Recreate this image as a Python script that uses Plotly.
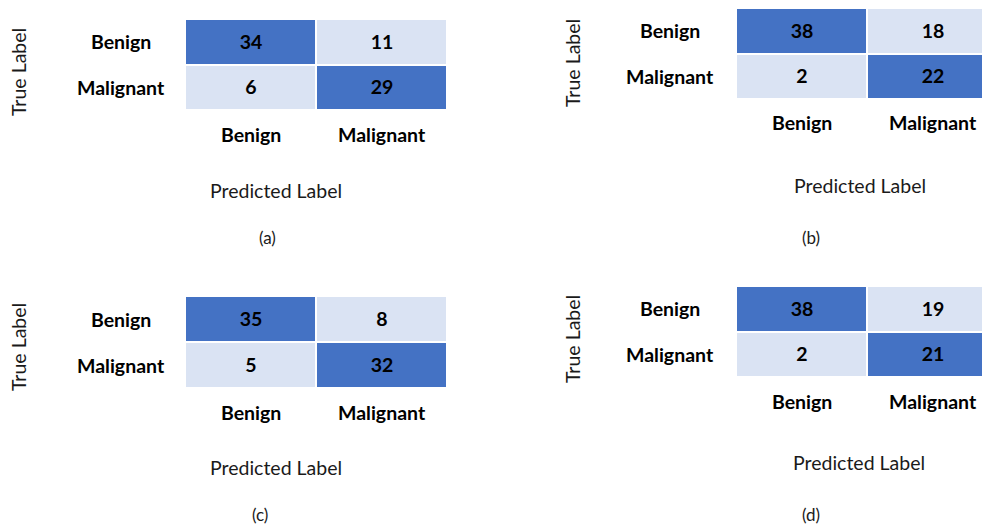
import plotly.graph_objects as go

W, H = 982, 524

classes = ["Benign", "Malignant"]
panel_names = ["(a)", "(b)", "(c)", "(d)"]
cm_a = [[34, 11], [6, 29]]
cm_b = [[38, 18], [2, 22]]
cm_c = [[35, 8], [5, 32]]
cm_d = [[38, 19], [2, 21]]
matrices = [cm_a, cm_b, cm_c, cm_d]

DARK = "#4472C4"
LIGHT = "#DAE3F3"
FONT = "Lato"
FS = 19.5

# layout per panel (pixels): cell left, cell right, top, bottom, x range right, row label x,
# predicted label (x,y), caption (x,y), true label (x,y)
panels = [
    dict(l=185, r=447, t=19, b=110, xr=1.5, rowx=121, pred=(276, 190), cap=(267, 237), tl=(18, 72)),
    dict(l=736, r=982, t=8, b=99, xr=0.5 + 115 / 131, rowx=670, pred=(860, 185), cap=(811, 238), tl=(572, 63)),
    dict(l=185, r=447, t=296, b=388, xr=1.5, rowx=121, pred=(276, 467), cap=(260, 514), tl=(18, 347)),
    dict(l=736, r=982, t=286, b=377, xr=0.5 + 115 / 131, rowx=670, pred=(859, 463), cap=(811, 514), tl=(572, 339)),
]

fig = go.Figure()
annotations = []

def px(x):
    return x / W

def py(y):
    return 1 - y / H

for i, (cm, p) in enumerate(zip(matrices, panels)):
    k = "" if i == 0 else str(i + 1)
    xa, ya = "x" + k, "y" + k
    color_idx = [[1 if r == c else 0 for c in range(2)] for r in range(2)]
    fig.add_trace(go.Heatmap(
        x=classes, y=classes, z=color_idx, text=cm,
        texttemplate="<b>%{text}</b>",
        textfont=dict(family=FONT, size=FS, color="#000000"),
        colorscale=[[0, LIGHT], [1, DARK]], zmin=0, zmax=1,
        showscale=False, xgap=2, ygap=2, hoverinfo="skip",
        xaxis=xa, yaxis=ya,
    ))
    fig.update_layout(**{
        ("xaxis" + k): dict(domain=[px(p["l"]), px(p["r"])], range=[-0.5, p["xr"]],
                             visible=False, anchor=ya, fixedrange=True),
        ("yaxis" + k): dict(domain=[py(p["b"]), py(p["t"])], range=[1.5, -0.5],
                             visible=False, anchor=xa, fixedrange=True),
    })
    # row labels
    for c in classes:
        annotations.append(dict(text="<b>%s</b>" % c, xref="paper", x=px(p["rowx"]),
                                yref=ya, y=c, showarrow=False, xanchor="center",
                                yanchor="middle", font=dict(family=FONT, size=FS, color="#000000")))
    # column labels
    for c in classes:
        annotations.append(dict(text="<b>%s</b>" % c, xref=xa, x=c,
                                yref="paper", y=py(p["b"] + 24), showarrow=False,
                                xanchor="center", yanchor="middle",
                                font=dict(family=FONT, size=FS, color="#000000")))
    annotations.append(dict(text="Predicted Label", xref="paper", x=px(p["pred"][0]),
                            yref="paper", y=py(p["pred"][1]), showarrow=False,
                            xanchor="center", yanchor="middle",
                            font=dict(family=FONT, size=FS, color="#1a1a1a")))
    annotations.append(dict(text=panel_names[i], xref="paper", x=px(p["cap"][0]),
                            yref="paper", y=py(p["cap"][1]), showarrow=False,
                            xanchor="center", yanchor="middle",
                            font=dict(family=FONT, size=17, color="#1a1a1a")))
    annotations.append(dict(text="True Label", xref="paper", x=px(p["tl"][0]),
                            yref="paper", y=py(p["tl"][1]), showarrow=False,
                            xanchor="center", yanchor="middle", textangle=-90,
                            font=dict(family=FONT, size=FS, color="#1a1a1a")))

fig.update_layout(
    width=W, height=H, margin=dict(l=0, r=0, t=0, b=0),
    paper_bgcolor="white", plot_bgcolor="white",
    annotations=annotations, showlegend=False,
)

fig.write_html("out.html", config={"displayModeBar": False})
